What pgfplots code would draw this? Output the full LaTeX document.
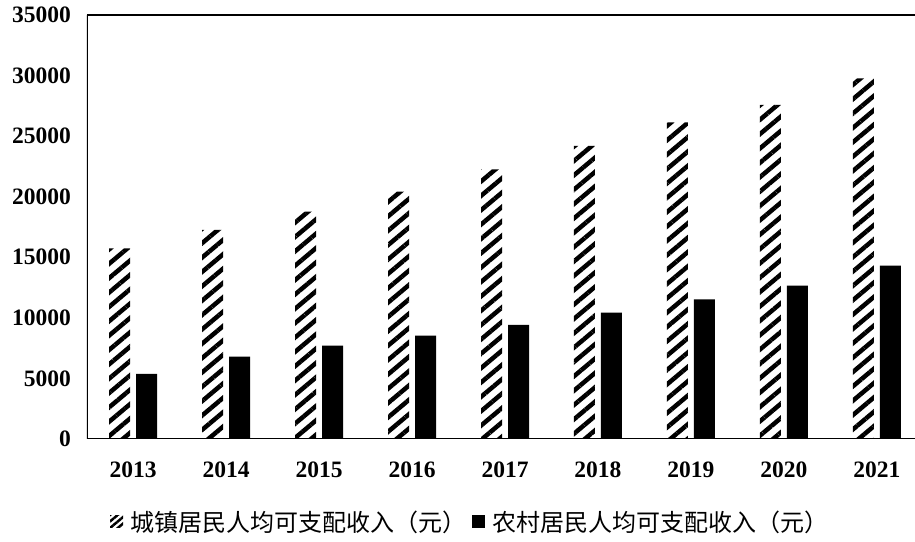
\documentclass[border=0pt]{standalone}
\usepackage{pgfplots}
\pgfplotsset{compat=1.18}
\usetikzlibrary{patterns.meta}
\usepackage{fontspec}
\setmainfont{Liberation Serif}
\newfontfamily\cjk{Noto Sans CJK SC}
\begin{document}
\begin{tikzpicture}
\begin{axis}[
  name=ax,
  scale only axis,
  width=828pt, height=424pt,
  xmin=-0.495, xmax=8.409,
  ymin=0, ymax=35000,
  ytick={0,5000,...,35000},
  xtick={0,...,8},
  xticklabels={2013,2014,2015,2016,2017,2018,2019,2020,2021},
  scaled y ticks=false,
  /pgf/number format/assume math mode=true,
  /pgf/number format/1000 sep={},
  axis line style={draw=none},
  major tick length=0pt,
  yticklabel style={font=\bfseries\fontsize{23.5}{28}\selectfont, inner sep=0pt, xshift=-16pt},
  xticklabel style={font=\bfseries\fontsize{23.5}{28}\selectfont, inner sep=0pt, yshift=-23pt},
  ybar=6pt, bar width=21pt,
  legend style={at={(axis description cs:0.4626,-0.196)}, anchor=center, draw=none,
    legend columns=2, font=\cjk\fontsize{24}{28}\selectfont,
    /tikz/every odd column/.append style={column sep=5pt},
    /tikz/every even column/.append style={column sep=4pt}},
  legend cell align=left,
]
\addplot[draw=none, pattern={Lines[angle=40,distance=11pt,line width=4.5pt]},
  legend image code/.code={\fill[pattern={Lines[angle=40,distance=5pt,line width=2.5pt]}] (0pt,-5pt) rectangle (13pt,7pt);}]
  coordinates {(0,15742) (1,17253) (2,18764) (3,20415) (4,22264) (5,24187) (6,26144) (7,27572) (8,29776)};
\addplot[draw=none, fill=black,
  legend image code/.code={\fill[black] (0pt,-6pt) rectangle (13pt,7pt);}]
  coordinates {(0,5366) (1,6794) (2,7702) (3,8527) (4,9411) (5,10426) (6,11532) (7,12655) (8,14306)};
\legend{城镇居民人均可支配收入（元）,农村居民人均可支配收入（元）}
\draw[line width=1.5pt] (rel axis cs:0,1) -- (rel axis cs:0,0) -- (rel axis cs:1,0);
\draw[line width=1.5pt] (rel axis cs:0,1) -- (rel axis cs:1,1);
\end{axis}
\pgfresetboundingbox
\path ([xshift=-87pt,yshift=-103pt]ax.south west) rectangle ([yshift=15pt]ax.north east);
\end{tikzpicture}
\end{document}
